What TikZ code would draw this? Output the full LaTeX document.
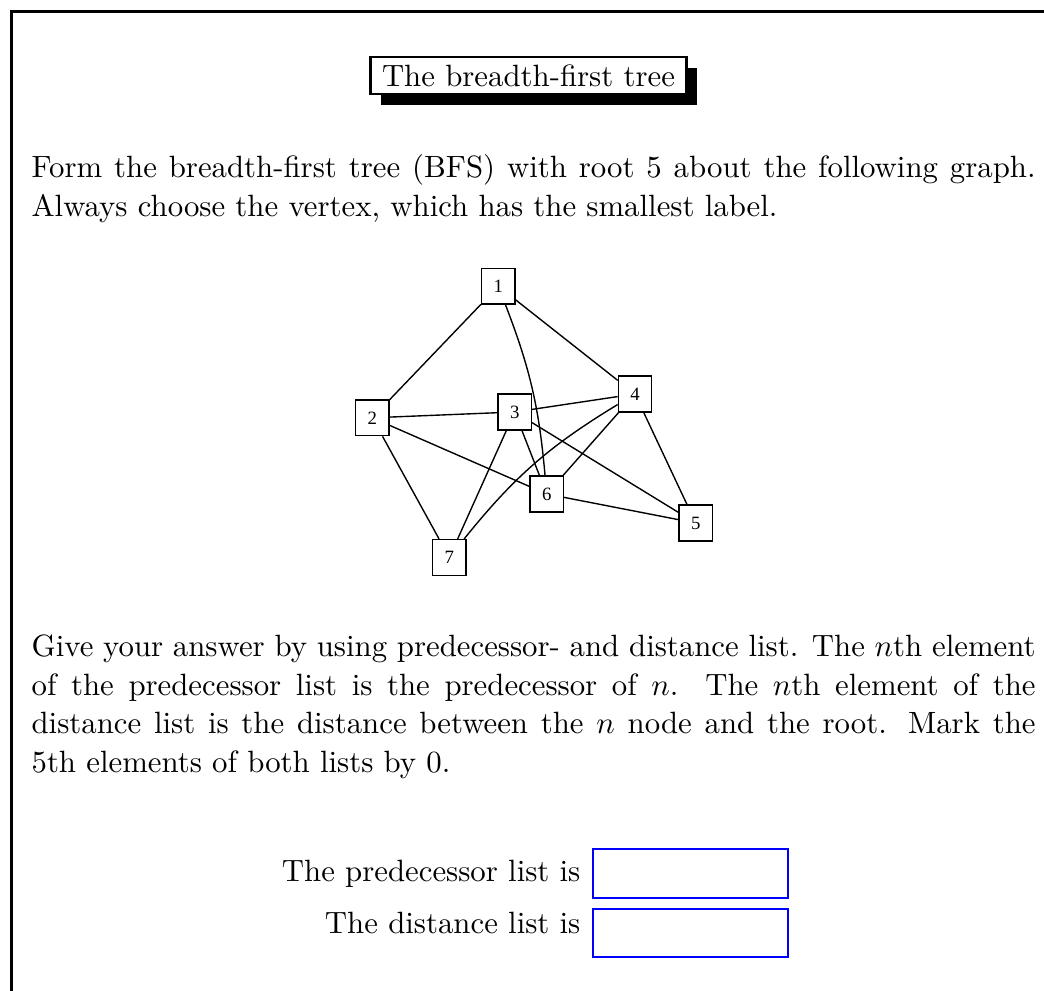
\documentclass[tikz,border=0pt]{standalone}
\usepackage{fontspec}
\newfontfamily\vertexfont{Liberation Serif}
\usetikzlibrary{shadows}

\begin{document}
\begin{tikzpicture}[
  x=0.3247pt, y=-0.3247pt,
  font=\fontsize{10}{12.5}\selectfont,
  titlebox/.style={
    draw,
    line width=0.8pt,
    fill=white,
    minimum width=102.6pt,
    minimum height=12pt,
    inner sep=0pt,
    drop shadow={shadow xshift=3.5pt, shadow yshift=-3.5pt, opacity=1, fill=black}
  },
  para/.style={
    anchor=base west,
    text width=326pt,
    align=justify,
    inner sep=0pt
  },
  vertex/.style={
    draw,
    line width=0.45pt,
    minimum width=10.8pt,
    minimum height=11.6pt,
    inner sep=0pt,
    font=\vertexfont\fontsize{6.1}{7}\selectfont
  },
  edge/.style={line width=0.45pt},
  answer/.style={anchor=base east, inner sep=0pt},
  field/.style={
    draw=blue,
    line width=0.7pt,
    minimum width=63.3pt,
    minimum height=15.7pt,
    inner sep=0pt
  }
]

\clip[use as bounding box] (0,0) rectangle (1044,991);
\draw[line width=0.8pt] (11.5,11.5) rectangle (1100,1050);

\node[titlebox] (title) at (528.5,75.5) {The breadth-first tree};

\node[para] (task) at (31,178)
  {Form the breadth-first tree (BFS) with root 5 about the following graph.
   Always choose the vertex, which has the smallest label.};

% the graph
\node[vertex] (v1) at (498.3,286.2) {1};
\node[vertex] (v2) at (372.3,417.8) {2};
\node[vertex] (v3) at (514.7,412) {3};
\node[vertex] (v4) at (635,394) {4};
\node[vertex] (v5) at (695.7,523) {5};
\node[vertex] (v6) at (546.7,494) {6};
\node[vertex] (v7) at (449.3,557.5) {7};

\foreach \a/\b in {1/2,1/4,2/3,2/6,2/7,3/4,3/5,3/6,3/7,4/5,4/6,6/5}
  \draw[edge] (v\a) -- (v\b);
\draw[edge] (v1) to[bend left=8] (v6);
\draw[edge] (v4) to[bend right=10] (v7);

\node[para] (hint) at (31,657)
  {Give your answer by using predecessor- and distance list. The $n$th element
   of the predecessor list is the predecessor of $n$. The $n$th element of the
   distance list is the distance between the $n$ node and the root. Mark the\linebreak
   5th elements of both lists by 0.};

\node[field] (predField) at (690.5,873.5) {};
\node[field] (distField) at (690.5,933) {};
\node[answer] (predLabel) at (581,882) {The predecessor list is};
\node[answer] (distLabel) at (581,934) {The distance list is};

\end{tikzpicture}
\end{document}
